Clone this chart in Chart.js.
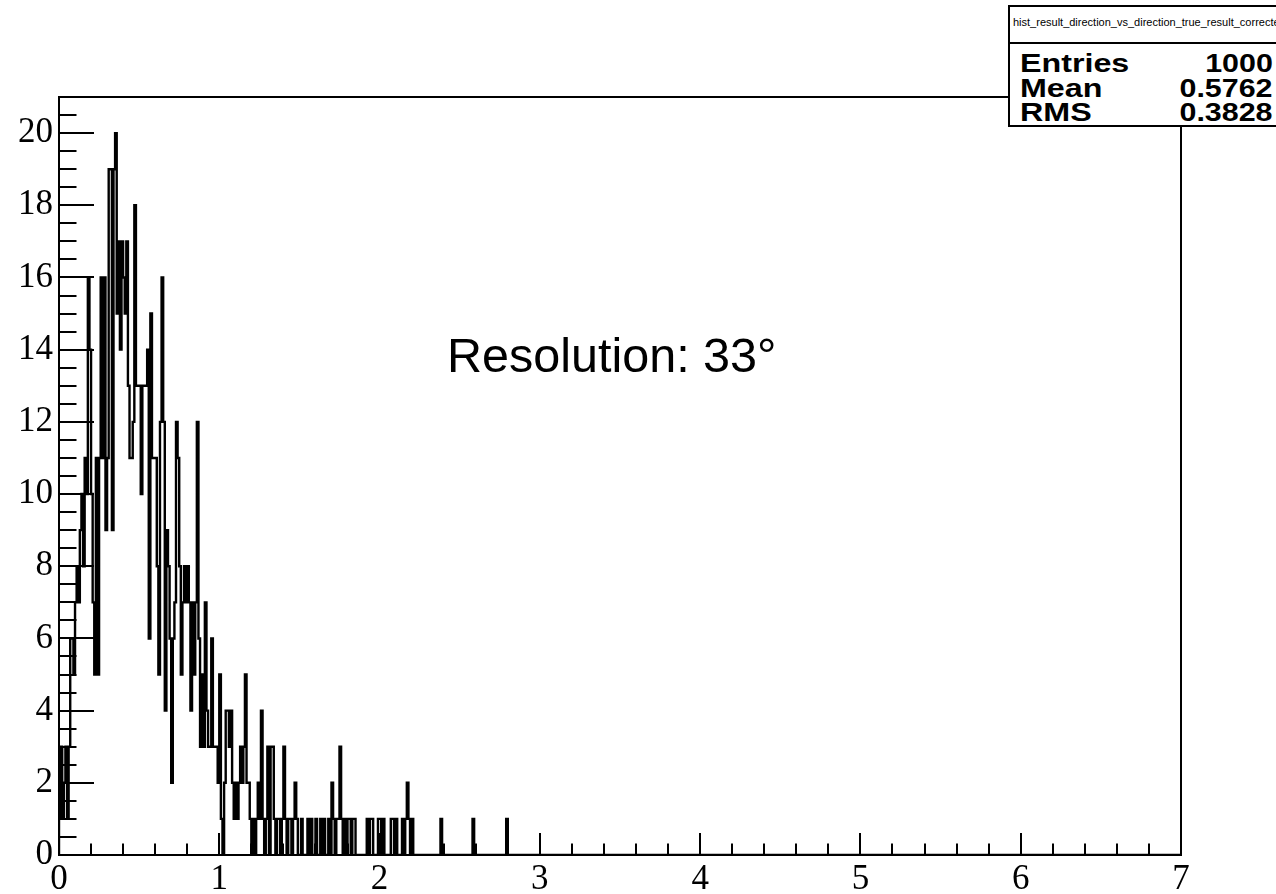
<!DOCTYPE html>
<html>
<head>
<meta charset="utf-8">
<script src="https://cdn.jsdelivr.net/npm/chart.js@4.4.0/dist/chart.umd.min.js"></script>
<style>
html,body{margin:0;padding:0;background:#fff;}
#wrap{position:relative;width:1276px;height:894px;overflow:hidden;background:#fff;}
#c{position:absolute;left:0;top:0;}
#res{position:absolute;left:447px;top:331px;font:48.5px 'Liberation Sans',Arial,sans-serif;line-height:48px;color:#000;white-space:nowrap;}
#stats{position:absolute;left:1008px;top:5px;width:300px;height:122px;box-sizing:border-box;border:2px solid #000;background:#fff;font-family:'Liberation Sans',Arial,sans-serif;color:#000;}
#st-title{position:absolute;left:3px;top:9px;font-size:11px;line-height:12px;white-space:nowrap;}
#st-sep{position:absolute;left:0;top:35px;width:100%;height:0;border-top:2px solid #000;}
.row{position:absolute;left:0;width:263px;height:26px;font-weight:bold;font-size:26px;line-height:26px;}
.row .k{position:absolute;left:10px;top:0;transform:scaleX(1.24);transform-origin:left center;}
.row .v{position:absolute;right:0;top:0;transform:scaleX(1.17);transform-origin:right center;}
</style>
</head>
<body>
<div id="wrap">
<canvas id="c" width="1276" height="894"></canvas>
<div id="res">Resolution: 33°</div>
<div id="stats">
  <div id="st-title"></div>
  <div id="st-sep"></div>
</div>
</div>
<script>
// ---- data ----
const histName = 'hist_result_direction_vs_direction_true_result_corrected';
const binWidth = 0.01;          // histogram binning, x range 0..7
const xMin = 0, xMax = 7;
const yMin = 0, yMax = 21;
const counts = [
  1,3,1,2,3,1,3,6,6,5,
  7,8,7,9,10,8,11,10,16,14,
  10,7,5,11,5,11,16,11,16,9,
  11,19,19,9,19,20,15,17,14,17,
  16,15,17,13,11,11,12,18,13,13,
  13,10,13,13,13,14,6,15,11,11,
  11,8,5,12,16,12,4,9,8,6,
  2,6,7,12,11,8,5,7,8,7,
  8,7,4,7,5,7,12,6,3,5,
  3,7,4,3,3,6,3,3,3,2,
  5,1,0,2,4,4,3,4,2,1,
  2,1,2,3,2,3,5,2,2,1,
  0,1,0,1,2,1,4,1,0,1,
  3,0,3,3,1,0,1,1,0,1,
  3,1,0,1,1,0,1,2,1,0,
  0,1,0,0,0,1,0,1,0,0,
  1,0,0,1,0,1,0,0,1,0,
  2,1,0,1,1,3,1,0,1,0,
  1,1,0,1,1,0,0,0,0,0,
  0,0,1,0,1,1,0,0,0,1,
  1,0,1,0,0,0,0,1,1,0,
  1,0,0,0,1,0,1,2,1,0,
  1,0,0,0,0,0,0,0,0,0,
  0,0,0,0,0,0,0,0,1,0,
  0,0,0,0,0,0,0,0,0,0,
  0,0,0,0,0,0,0,0,1,0,
  0,0,0,0,0,0,0,0,0,0,
  0,0,0,0,0,0,0,0,0,1
];
const xTickValues = [0,1,2,3,4,5,6,7];
const xTickLabels = ['0','1','2','3','4','5','6','7'];
const yTickValues = [0,2,4,6,8,10,12,14,16,18,20];
const yTickLabels = ['0','2','4','6','8','10','12','14','16','18','20'];
const statsLabels = ['Entries','Mean','RMS'];
const statsValues = ['1000','0.5762','0.3828'];

// ---- stats box text ----
document.getElementById('st-title').textContent = histName;
const statsBox = document.getElementById('stats');
const rowTops = [43, 68, 92];
statsLabels.forEach((k, i) => {
  const r = document.createElement('div');
  r.className = 'row';
  r.style.top = rowTops[i] + 'px';
  r.innerHTML = '<span class="k"></span><span class="v"></span>';
  r.querySelector('.k').textContent = k;
  r.querySelector('.v').textContent = statsValues[i];
  statsBox.appendChild(r);
});

// ---- histogram outline points (bin low edges, stepped) ----
const points = [{x: xMin, y: 0}];
counts.forEach((c, i) => points.push({x: i * binWidth, y: c}));
points.push({x: counts.length * binWidth, y: 0});
points.push({x: xMax, y: 0});

// ---- frame + ROOT-style inner ticks ----
const framePlugin = {
  id: 'rootFrame',
  afterDraw(chart) {
    const {ctx, chartArea: a, scales: {x, y}} = chart;
    ctx.save();
    ctx.strokeStyle = '#000';
    ctx.lineWidth = 2;
    ctx.beginPath();
    for (let v = yMin; v <= yMax + 1e-9; v += 0.5) {
      const py = Math.round(y.getPixelForValue(v));
      const major = Math.abs(v / 2 - Math.round(v / 2)) < 1e-9;
      const len = major ? 35 : 17.5;
      ctx.moveTo(a.left, py);
      ctx.lineTo(a.left + len, py);
    }
    for (let k = 0; k <= 35; k++) {
      const v = k * 0.2;
      const px = Math.round(x.getPixelForValue(v));
      const major = k % 5 === 0;
      const len = major ? 22 : 11.5;
      ctx.moveTo(px, a.bottom);
      ctx.lineTo(px, a.bottom - len);
    }
    ctx.stroke();
    ctx.strokeRect(a.left, a.top, a.right - a.left, a.bottom - a.top);
    ctx.restore();
  }
};

new Chart(document.getElementById('c'), {
  type: 'line',
  data: {
    datasets: [{
      data: points,
      stepped: true,
      borderColor: '#000',
      borderWidth: 2.4,
      pointRadius: 0,
      fill: false,
      tension: 0
    }]
  },
  options: {
    responsive: false,
    animation: false,
    devicePixelRatio: 1,
    parsing: false,
    normalized: true,
    layout: {padding: {left: 0, right: 95, top: 97, bottom: 0}},
    plugins: {legend: {display: false}, tooltip: {enabled: false}},
    scales: {
      x: {
        type: 'linear', min: xMin, max: xMax,
        afterBuildTicks: s => { s.ticks = xTickValues.map(v => ({value: v})); },
        afterFit: s => { s.height = 39; },
        grid: {display: false, drawTicks: false},
        border: {display: false},
        ticks: {
          autoSkip: false, maxRotation: 0, padding: 4, color: '#000',
          font: {family: "'Liberation Serif', 'Times New Roman', serif", size: 35},
          callback: (v, i) => xTickLabels[i]
        }
      },
      y: {
        type: 'linear', min: yMin, max: yMax,
        afterBuildTicks: s => { s.ticks = yTickValues.map(v => ({value: v})); },
        afterFit: s => { s.width = 59; },
        grid: {display: false, drawTicks: false},
        border: {display: false},
        ticks: {
          autoSkip: false, padding: 6, color: '#000',
          font: {family: "'Liberation Serif', 'Times New Roman', serif", size: 35},
          callback: (v, i) => yTickLabels[i]
        }
      }
    }
  },
  plugins: [framePlugin]
});
</script>
</body>
</html>
